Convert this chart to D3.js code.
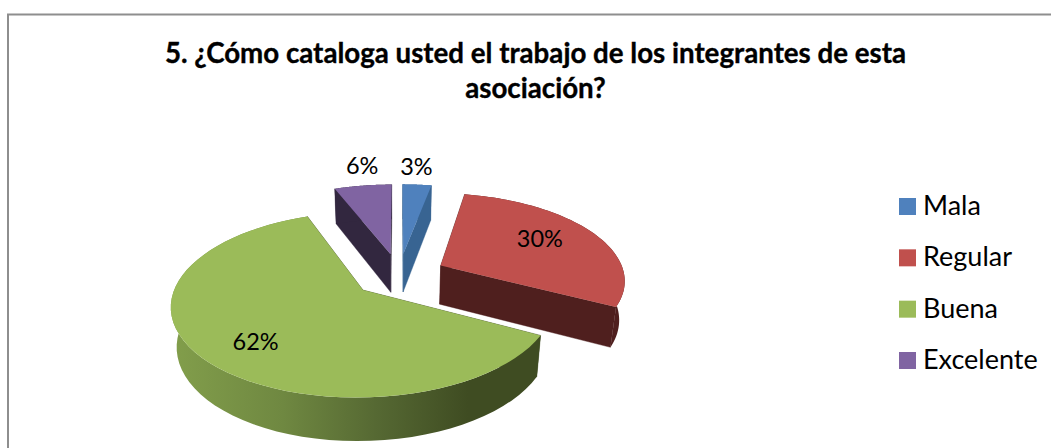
<!DOCTYPE html>
<html><head><meta charset="utf-8">
<script src="https://cdnjs.cloudflare.com/ajax/libs/d3/7.8.5/d3.min.js"></script>
<style>html,body{margin:0;padding:0;background:#fff}svg{display:block}text{font-family:Lato,"Open Sans",sans-serif;fill:#000}</style>
</head><body><svg id="c" width="1051" height="448"></svg>
<script>
const categories = ["Mala","Regular","Buena","Excelente"];
const values = [3,30,62,6];
const labels = ["3%","30%","62%","6%"];
const colors = ["#4f81bd","#c0504d","#9bbb59","#8064a2"];
const sideColors = ["#386492","#4f1f1e","#3f4c22","#32273f"];
const titleLines = ["5. ¿Cómo cataloga usted el trabajo de los integrantes de esta","asociación?"];

const svg = d3.select("#c");
const W = 1051, H = 448;
svg.append("rect").attr("width",W).attr("height",H).attr("fill","#fff");
svg.append("path").attr("d","M8,448V14.5H1051").attr("fill","none").attr("stroke","#8e8e8e").attr("stroke-width",2);

titleLines.forEach((t,i)=>svg.append("text").attr("x",535.5).attr("y",63+i*35).attr("text-anchor","middle")
  .attr("font-size",27.7).attr("font-weight",700).attr("stroke","#000").attr("stroke-width",.35).text(t));

// projection of the tilted pie: u,v on a unit disc, h = 0 top, 1 bottom of the extrusion
const cx=399, cy=275, a=184, b=86, k=0.152, m=0.025, t=40, explode=0.256;
const proj=(u,v,h)=>{const w=1-k*v+m*h;return [cx+a*u/w, cy+(b*v+t*h)/w];};
const line=d3.line();
const arcs=d3.pie().sort(null).startAngle(0).endAngle(2*Math.PI)(values);

const defs=svg.append("defs");
const grad=defs.append("linearGradient").attr("id","rim").attr("gradientUnits","userSpaceOnUse")
  .attr("x1",172).attr("x2",542).attr("y1",0).attr("y2",0);
[[0,"#829e4b"],[0.3,"#6f8841"],[0.55,"#566933"],[0.8,"#3f4c22"],[1,"#3f4c22"]].forEach(s=>
  grad.append("stop").attr("offset",s[0]).attr("stop-color",s[1]));

const order=[0,3,1,2];
order.forEach(i=>{
  const d=arcs[i], mid=(d.startAngle+d.endAngle)/2;
  const u0=Math.sin(mid)*explode, v0=-Math.cos(mid)*explode;
  const pt=(ang,h)=>proj(u0+Math.sin(ang),v0-Math.cos(ang),h);
  const angs=d3.range(0,61).map(j=>d.startAngle+(d.endAngle-d.startAngle)*j/60);
  const apex=h=>proj(u0,v0,h);
  const g=svg.append("g").attr("class","slice");
  const side=sideColors[i];
  [d.startAngle,d.endAngle].forEach(ang=>{
    g.append("path").attr("d",line([apex(0),pt(ang,0),pt(ang,1),apex(1)])+"Z").attr("fill",side).attr("stroke",side).attr("stroke-width",.4);
  });
  const rim=angs.map(x=>pt(x,0)).concat(angs.slice().reverse().map(x=>pt(x,1)));
  g.append("path").attr("d",line(rim)+"Z").attr("fill",i===2?"url(#rim)":side);
  const top=[apex(0)].concat(angs.map(x=>pt(x,0)));
  g.append("path").attr("d",line(top)+"Z").attr("fill",colors[i]);
});

// data labels: radial fraction per slice plus a small nudge
const labelFrac=[1.2,0.72,0.72,1.2];
const labelNudge=[[-3,-6],[-11,-2],[5,5],[4,-8]];
arcs.forEach((d,i)=>{
  const mid=(d.startAngle+d.endAngle)/2;
  const u0=Math.sin(mid)*explode, v0=-Math.cos(mid)*explode;
  const p=proj(u0+Math.sin(mid)*labelFrac[i],v0-Math.cos(mid)*labelFrac[i],0);
  svg.append("text").attr("x",p[0]+labelNudge[i][0]).attr("y",p[1]+8+labelNudge[i][1]).attr("text-anchor","middle").attr("font-size",23.5).text(labels[i]);
});

// legend
const ly=d3.scalePoint().domain(categories).range([198,352]);
categories.forEach((c,i)=>{
  svg.append("rect").attr("x",899).attr("y",ly(c)).attr("width",17).attr("height",17).attr("fill",colors[i]);
  svg.append("text").attr("x",923).attr("y",ly(c)+17).attr("font-size",27).text(c);
});
</script></body></html>
